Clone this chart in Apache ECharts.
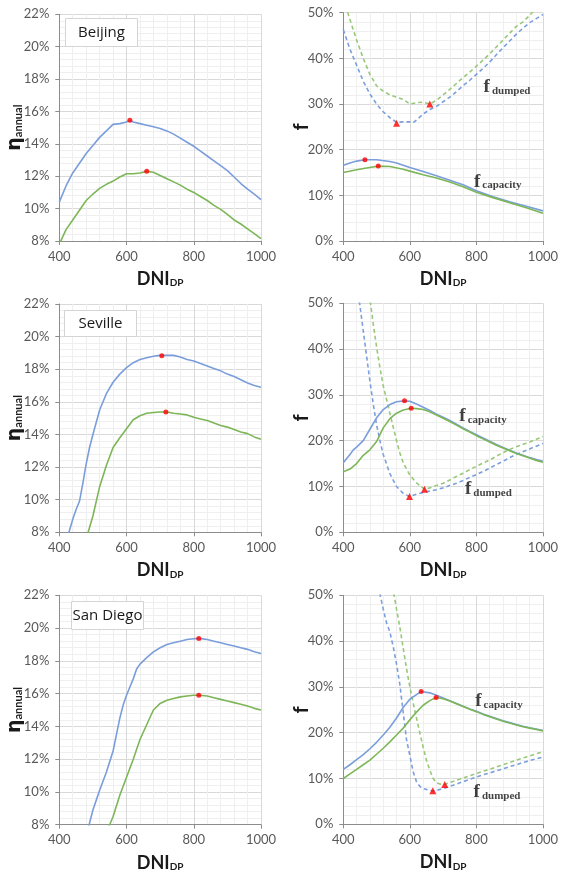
<!DOCTYPE html>
<html>
<head>
<meta charset="utf-8">
<script src="https://cdn.jsdelivr.net/npm/echarts@6/dist/echarts.min.js"></script>
<style>
  html, body { margin: 0; padding: 0; background: #ffffff; }
  #chart { width: 561px; height: 877px; }
</style>
</head>
<body>
<div id="chart"></div>
<script>
// ---------- axis ticks ----------
const dniTicks = [400, 600, 800, 1000];
const etaTicks = [8, 10, 12, 14, 16, 18, 20, 22];
const fTicks = [0, 10, 20, 30, 40, 50];
const cities = ['Beijing', 'Seville', 'San Diego'];

// ---------- Beijing ----------
const bjEtaBlue = [[400,10.4],[420,11.4],[440,12.2],[460,12.8],[480,13.4],[500,13.9],[520,14.4],[540,14.8],[560,15.2],[580,15.25],[600,15.35],[610,15.45],[620,15.35],[640,15.25],[660,15.15],[680,15.05],[700,14.95],[720,14.8],[740,14.6],[760,14.35],[780,14.1],[800,13.85],[820,13.55],[840,13.25],[860,12.95],[880,12.65],[900,12.35],[920,11.95],[940,11.55],[960,11.2],[980,10.9],[1000,10.55]];
const bjEtaGreen = [[400,7.8],[420,8.7],[440,9.3],[460,9.9],[480,10.5],[500,10.9],[520,11.25],[540,11.5],[560,11.7],[580,11.95],[600,12.15],[620,12.15],[640,12.2],[660,12.3],[680,12.25],[700,12.05],[720,11.85],[740,11.65],[760,11.45],[780,11.2],[800,11.0],[820,10.75],[840,10.5],[860,10.2],[880,9.95],[900,9.65],[920,9.3],[940,9.05],[960,8.75],[980,8.45],[1000,8.15]];
const bjEtaPeaks = [[610,15.45],[660,12.3]];
const bjCapBlue = [[400,16.6],[420,17.1],[440,17.5],[465,17.8],[500,17.8],[540,17.4],[560,17.1],[580,16.6],[600,16.1],[640,15.2],[680,14.3],[720,13.3],[760,12.3],[800,11.0],[850,9.7],[900,8.6],[950,7.6],[1000,6.6]];
const bjCapGreen = [[400,15.0],[440,15.6],[470,16.0],[505,16.4],[540,16.3],[580,15.7],[600,15.3],[640,14.5],[680,13.8],[720,12.9],[760,11.9],[800,10.7],[850,9.5],[900,8.4],[950,7.3],[1000,6.1]];
const bjCapPeaks = [[465,17.8],[505,16.4]];
const bjDumpBlue = [[400,46.3],[420,42],[440,38.5],[460,35],[480,32.2],[500,30],[520,28.3],[540,27],[560,26],[580,26.1],[600,26.1],[610,25.9],[620,26.5],[640,27.8],[660,28.8],[680,29.5],[700,30.5],[720,31.5],[740,32.7],[760,34],[780,35.2],[800,36.5],[820,37.8],[840,39.2],[860,40.8],[880,42.3],[900,43.8],[920,45.3],[940,46.6],[960,47.8],[980,48.7],[1000,49.6]];
const bjDumpGreen = [[400,53],[420,48.5],[440,44],[460,40],[480,36.5],[500,34],[520,32.8],[540,32],[560,31.5],[580,31],[600,30],[620,30.3],[640,30.4],[660,30],[680,30.8],[700,32],[720,33.2],[740,34.5],[760,35.8],[780,37],[800,38.3],[820,39.6],[840,41],[860,42.5],[880,44],[900,45.5],[920,47],[940,48],[960,49.4],[980,51]];
const bjDumpMins = [[560,25.8],[660,30]];

// ---------- Seville ----------
const svEtaBlue = [[420,7.5],[430,8.1],[440,8.8],[450,9.4],[460,9.9],[470,11.0],[480,12.2],[490,13.2],[500,14.0],[520,15.5],[540,16.5],[560,17.2],[580,17.7],[600,18.1],[620,18.4],[640,18.6],[660,18.7],[680,18.8],[700,18.85],[720,18.85],[740,18.85],[760,18.75],[780,18.6],[800,18.5],[820,18.35],[840,18.2],[860,18.05],[880,17.9],[900,17.7],[920,17.55],[940,17.35],[960,17.15],[980,17.0],[1000,16.9]];
const svEtaGreen = [[480,7.6],[490,8.3],[500,9.0],[520,10.8],[540,12.1],[560,13.2],[580,13.8],[600,14.35],[620,14.9],[640,15.15],[660,15.3],[680,15.35],[700,15.38],[720,15.38],[740,15.3],[760,15.25],[780,15.2],[800,15.05],[820,14.95],[840,14.85],[860,14.7],[880,14.55],[900,14.45],[920,14.3],[940,14.15],[960,14.05],[980,13.85],[1000,13.7]];
const svEtaPeaks = [[705,18.82],[717,15.38]];
const svCapBlue = [[400,15.2],[420,17],[430,18],[440,18.6],[460,20],[480,22.5],[500,25],[520,26.8],[540,27.9],[560,28.5],[584,28.7],[600,28.6],[620,28],[640,27.3],[660,26.6],[680,25.8],[700,25.1],[720,24.4],[740,23.6],[760,22.8],[780,22],[800,21.3],[820,20.6],[840,19.9],[860,19.2],[880,18.5],[900,17.9],[920,17.3],[940,16.8],[960,16.3],[980,15.9],[1000,15.5]];
const svCapGreen = [[400,13.2],[420,13.8],[440,15],[460,16.8],[480,18],[500,19.8],[520,22.8],[540,24.8],[560,26],[580,26.7],[604,27.1],[620,27],[640,26.8],[660,26.3],[680,25.6],[700,24.9],[720,24.2],[740,23.4],[760,22.6],[780,21.9],[800,21.1],[820,20.4],[840,19.7],[860,19],[880,18.4],[900,17.8],[920,17.2],[940,16.7],[960,16.2],[980,15.7],[1000,15.3]];
const svCapPeaks = [[584,28.7],[604,27.1]];
const svDumpBlue = [[445,52],[450,49.5],[460,44],[470,38.5],[480,33],[490,28],[500,23.5],[510,20],[520,17],[540,12.8],[560,10],[580,8.5],[599,7.8],[620,8.3],[640,8.7],[660,9.0],[680,9.3],[700,9.7],[720,10.2],[740,10.7],[760,11.3],[780,12],[800,12.6],[820,13.3],[840,14],[860,14.8],[880,15.5],[900,16.3],[920,17],[940,17.6],[960,18.2],[980,18.8],[1000,19.4]];
const svDumpGreen = [[478,52],[490,45.5],[500,40.5],[510,36],[520,32],[530,29],[540,26],[550,23],[560,20],[570,17.3],[580,15.2],[600,12.5],[620,10.8],[644,9.4],[660,9.7],[680,10.2],[700,10.7],[720,11.4],[740,12.2],[760,12.9],[780,13.7],[800,14.4],[820,15.1],[840,15.8],[860,16.6],[880,17.4],[900,18.1],[920,18.7],[940,19.2],[960,19.7],[980,20.3],[1000,20.9]];
const svDumpMins = [[599,7.8],[644,9.4]];

// ---------- San Diego ----------
const sdEtaBlue = [[480,7.4],[490,8.1],[500,8.9],[510,9.5],[520,10.1],[540,11.2],[560,12.5],[570,13.5],[580,14.5],[590,15.3],[600,15.9],[610,16.4],[620,16.9],[630,17.5],[640,17.8],[660,18.2],[680,18.55],[700,18.8],[720,19.0],[740,19.1],[760,19.2],[780,19.3],[800,19.35],[815,19.37],[840,19.3],[860,19.2],[880,19.1],[900,19.0],[920,18.9],[940,18.8],[960,18.7],[980,18.55],[1000,18.45]];
const sdEtaGreen = [[540,7.5],[550,8.0],[560,8.5],[580,9.8],[600,10.9],[620,12.0],[640,13.2],[660,14.1],[680,15.0],[700,15.4],[720,15.6],[740,15.7],[760,15.8],[780,15.85],[800,15.9],[815,15.9],[840,15.85],[860,15.75],[880,15.65],[900,15.55],[920,15.45],[940,15.35],[960,15.25],[980,15.1],[1000,15.0]];
const sdEtaPeaks = [[815,19.37],[815,15.9]];
const sdCapBlue = [[400,12.0],[420,13.0],[440,14.1],[460,15.2],[480,16.5],[500,17.9],[520,19.5],[540,21.2],[560,23.2],[580,25.5],[600,27.3],[620,28.3],[634,29.0],[660,28.7],[680,28.2],[700,27.6],[720,27.0],[740,26.4],[760,25.8],[780,25.2],[800,24.7],[820,24.1],[840,23.6],[860,23.1],[880,22.6],[900,22.2],[920,21.8],[940,21.4],[960,21.1],[980,20.8],[1000,20.5]];
const sdCapGreen = [[400,10.0],[420,11.0],[440,12.0],[460,13.0],[480,14.0],[500,15.3],[520,16.6],[540,18.0],[560,19.5],[580,21.0],[600,22.8],[620,24.5],[640,26.0],[660,27.0],[679,27.7],[700,27.4],[720,26.9],[740,26.3],[760,25.7],[780,25.1],[800,24.6],[820,24.0],[840,23.5],[860,23.0],[880,22.5],[900,22.1],[920,21.7],[940,21.3],[960,21.0],[980,20.7],[1000,20.4]];
const sdCapPeaks = [[634,29.0],[679,27.7]];
const sdDumpBlue = [[505,52],[520,47],[530,44],[540,42],[550,38.8],[560,35],[570,30.5],[580,24.5],[590,18.5],[600,15],[610,11.5],[620,9.3],[630,8.3],[640,7.8],[660,7.4],[669,7.3],[680,7.4],[700,7.8],[720,8.3],[740,8.8],[760,9.3],[780,9.8],[800,10.3],[820,10.8],[840,11.2],[860,11.7],[880,12.1],[900,12.6],[920,13.0],[940,13.5],[960,13.9],[980,14.3],[1000,14.7]];
const sdDumpGreen = [[548,52],[560,47],[570,43],[580,38.5],[590,34],[600,30],[610,26.5],[620,23.2],[630,20],[640,16.8],[650,14],[660,11.8],[670,10],[680,9.1],[690,8.8],[705,8.7],[720,9.1],[740,9.6],[760,10.1],[780,10.6],[800,11.1],[820,11.6],[840,12.0],[860,12.5],[880,13.0],[900,13.5],[920,14.0],[940,14.5],[960,14.9],[980,15.4],[1000,15.8]];
const sdDumpMins = [[669,7.3],[705,8.7]];

// ---------- styling ----------
const BLUE = '#7a9ddb';
const GREEN = '#7db657';
const BLUE_DASH = '#7b9fdd';
const GREEN_DASH = '#98c878';
const RED = '#ff0000';
const AXIS_GRAY = '#8c8c8c';
const LABEL_GRAY = '#595959';

const etaSets = [
  [bjEtaBlue, bjEtaGreen, bjEtaPeaks],
  [svEtaBlue, svEtaGreen, svEtaPeaks],
  [sdEtaBlue, sdEtaGreen, sdEtaPeaks]
];
const fSets = [
  [bjCapBlue, bjCapGreen, bjCapPeaks, bjDumpBlue, bjDumpGreen, bjDumpMins],
  [svCapBlue, svCapGreen, svCapPeaks, svDumpBlue, svDumpGreen, svDumpMins],
  [sdCapBlue, sdCapGreen, sdCapPeaks, sdDumpBlue, sdDumpGreen, sdDumpMins]
];

// panel frames in pixels
const leftCol = { left: 59.3, width: 201.7 };
const rightCol = { left: 343.3, width: 201 };
const etaRows = [[14.3, 241], [304, 532.3], [595.3, 824.7]];
const fRows = [[12.7, 241], [303.3, 532.3], [595.3, 824.3]];
// where the f_capacity / f_dumped captions sit (data coordinates)
const capCaption = [[864, 13.0], [820, 25.4], [868, 26.9]];
const dumpCaption = [[892, 33.6], [836, 9.45], [862, 7.0]];
// city boxes in pixels
const cityBoxes = [[65, 18, 72, 28], [64, 310, 72, 26], [71, 601, 72, 28]];

const grids = [], xAxes = [], yAxes = [], series = [], graphics = [];

function xAxisFor(idx) {
  return {
    type: 'value', gridIndex: idx,
    min: dniTicks[0], max: dniTicks[dniTicks.length - 1],
    interval: dniTicks[1] - dniTicks[0],
    name: '{m|DNI}{s|DP}', nameLocation: 'middle', nameGap: 29, nameMoveOverlap: false,
    nameTextStyle: {
      rich: {
        m: { fontFamily: 'Lato', fontWeight: 'bold', fontSize: 18, color: '#1a1a1a', lineHeight: 18, verticalAlign: 'bottom' },
        s: { fontFamily: 'Lato', fontWeight: 'bold', fontSize: 10, color: '#1a1a1a', lineHeight: 10, verticalAlign: 'bottom' }
      }
    },
    axisLine: { show: true, lineStyle: { color: AXIS_GRAY, width: 1 } },
    axisTick: { show: true, length: 4, lineStyle: { color: AXIS_GRAY } },
    minorTick: { show: false, splitNumber: 5 },
    splitLine: { show: true, lineStyle: { color: '#d9d9d9', width: 1 } },
    minorSplitLine: { show: true, lineStyle: { color: '#efefef', width: 1 } },
    axisLabel: { color: LABEL_GRAY, fontFamily: 'Lato', fontSize: 13, margin: 9, formatter: v => String(v) }
  };
}

function yAxisFor(idx, ticks, nameRich, gap) {
  return {
    type: 'value', gridIndex: idx,
    min: ticks[0], max: ticks[ticks.length - 1], interval: ticks[1] - ticks[0],
    name: nameRich.text, nameLocation: 'middle', nameGap: gap, nameRotate: 90,
    nameMoveOverlap: false,
    nameTextStyle: { rich: nameRich.rich },
    axisLine: { show: true, lineStyle: { color: AXIS_GRAY, width: 1 } },
    axisTick: { show: true, length: 4, lineStyle: { color: AXIS_GRAY } },
    minorTick: { show: false, splitNumber: 5 },
    splitLine: { show: true, lineStyle: { color: '#d9d9d9', width: 1 } },
    minorSplitLine: { show: true, lineStyle: { color: '#efefef', width: 1 } },
    axisLabel: { color: LABEL_GRAY, fontFamily: 'Lato', fontSize: 13, margin: 10, formatter: v => v + '%' }
  };
}

const etaName = {
  text: '{m|η}{s|annual}',
  rich: {
    m: { fontFamily: 'DejaVu Sans', fontWeight: 'bold', fontSize: 19, color: '#1a1a1a', lineHeight: 19, verticalAlign: 'bottom' },
    s: { fontFamily: 'Lato', fontWeight: 'bold', fontSize: 11, color: '#1a1a1a', lineHeight: 11, verticalAlign: 'bottom' }
  }
};
const fName = {
  text: '{m|f}',
  rich: { m: { fontFamily: 'Lato', fontWeight: 'bold', fontSize: 20, color: '#1a1a1a', lineHeight: 20 } }
};

function line(idx, data, color, dashed) {
  return {
    type: 'line', xAxisIndex: idx, yAxisIndex: idx, data: data,
    showSymbol: false, symbol: 'none', clip: true, silent: true, z: 3,
    lineStyle: { color: color, width: 1.6, type: dashed ? [4, 3] : 'solid' }
  };
}
function marks(idx, data, shape, size) {
  return {
    type: 'scatter', xAxisIndex: idx, yAxisIndex: idx, data: data,
    symbol: shape, symbolSize: size, silent: true, z: 5,
    itemStyle: { color: RED }
  };
}
function caption(idx, pos, sub) {
  return {
    type: 'scatter', xAxisIndex: idx, yAxisIndex: idx, data: [pos],
    symbolSize: 1, silent: true, z: 6,
    itemStyle: { color: 'rgba(0,0,0,0)' },
    label: {
      show: true, position: 'inside',
      formatter: '{f|f}{s|' + sub + '}',
      rich: {
        f: { fontFamily: 'Liberation Serif', fontWeight: 'bold', fontSize: 19, color: '#111', lineHeight: 19, verticalAlign: 'bottom' },
        s: { fontFamily: 'Liberation Serif', fontWeight: 'bold', fontSize: 11, color: '#111', lineHeight: 11, verticalAlign: 'bottom', padding: [0, 0, 0, 2] }
      }
    }
  };
}

for (let r = 0; r < 3; r++) {
  // η_annual panel
  const ei = r * 2;
  grids.push({ left: leftCol.left, width: leftCol.width, top: etaRows[r][0], height: etaRows[r][1] - etaRows[r][0] });
  xAxes.push(xAxisFor(ei));
  yAxes.push(yAxisFor(ei, etaTicks, etaName, 35));
  const [eb, eg, ep] = etaSets[r];
  series.push(line(ei, eb, BLUE, false), line(ei, eg, GREEN, false), marks(ei, ep, 'circle', 5));

  // f panel
  const fi = r * 2 + 1;
  grids.push({ left: rightCol.left, width: rightCol.width, top: fRows[r][0], height: fRows[r][1] - fRows[r][0] });
  xAxes.push(xAxisFor(fi));
  yAxes.push(yAxisFor(fi, fTicks, fName, 32));
  const [cb, cg, cp, db, dg, dm] = fSets[r];
  series.push(
    line(fi, db, BLUE_DASH, true), line(fi, dg, GREEN_DASH, true),
    line(fi, cb, BLUE, false), line(fi, cg, GREEN, false),
    marks(fi, cp, 'circle', 5), marks(fi, dm, 'triangle', 7),
    caption(fi, capCaption[r], 'capacity'), caption(fi, dumpCaption[r], 'dumped')
  );

  // city box
  const [bx, by, bw, bh] = cityBoxes[r];
  graphics.push({
    type: 'group', left: bx, top: by, z: 100,
    children: [
      { type: 'rect', z: 100, shape: { x: 0, y: 0, width: bw, height: bh },
        style: { fill: '#ffffff', stroke: '#d4d4d4', lineWidth: 1 } },
      { type: 'text', z: 101, x: bw / 2, y: bh / 2,
        style: { text: cities[r], fontFamily: 'Open Sans', fontSize: 15, fill: '#1a1a1a',
                 align: 'center', verticalAlign: 'middle' } }
    ]
  });
}

const chart = echarts.init(document.getElementById('chart'), null, { renderer: 'canvas' });
chart.setOption({
  backgroundColor: '#ffffff',
  animation: false,
  grid: grids,
  xAxis: xAxes,
  yAxis: yAxes,
  series: series,
  graphic: graphics
});
</script>
</body>
</html>
